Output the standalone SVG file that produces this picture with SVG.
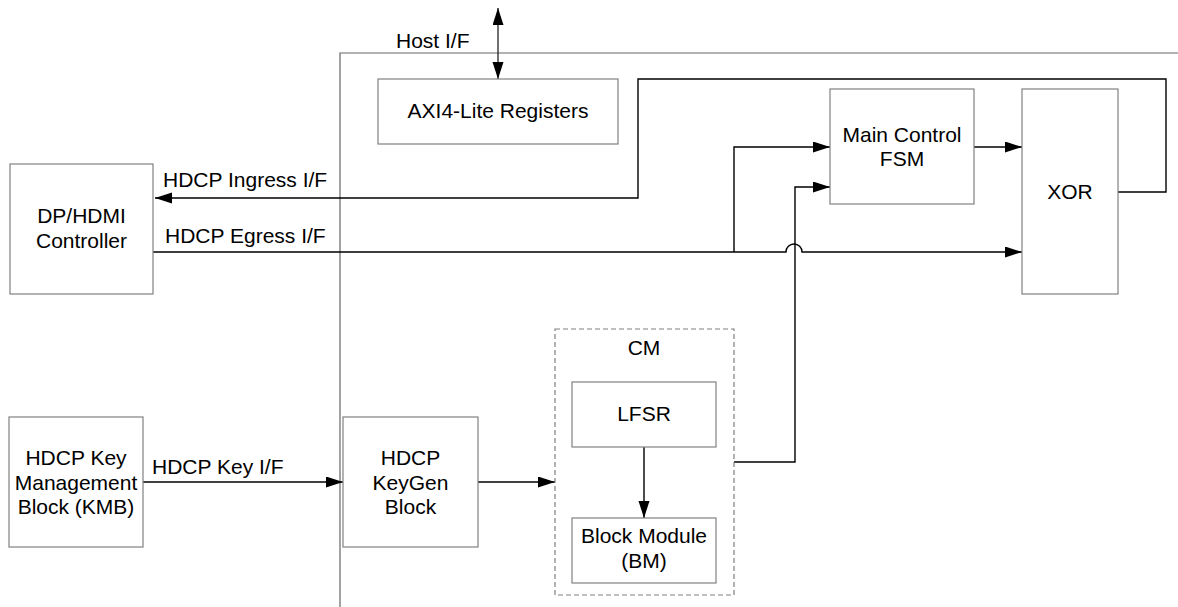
<svg xmlns="http://www.w3.org/2000/svg" width="1178" height="607" viewBox="0 0 1178 607">
<style>
.box{fill:#fff;stroke:#808080;stroke-width:1.2}
.dash{fill:none;stroke:#808080;stroke-width:1.2;stroke-dasharray:5,3}
.frame{fill:none;stroke:#666;stroke-width:1.2}
.wire{fill:none;stroke:#000;stroke-width:1.4}
.arr{marker-end:url(#ah)}
text{font-family:"Liberation Sans",Arial,sans-serif;font-size:21px;fill:#000}
.c{text-anchor:middle}
</style>
<defs>
<marker id="ah" markerUnits="userSpaceOnUse" markerWidth="18" markerHeight="12" refX="17" refY="5.5" orient="auto-start-reverse">
<path d="M0,0 L17,5.5 L0,11 z" fill="#000"/>
</marker>
</defs>
<rect width="1178" height="607" fill="#fff"/>
<path class="frame" d="M340,607 L340,53 L1178,53"/>
<g id="connectors">
<path class="wire arr" d="M498,79 L498,8" marker-start="url(#ah)" style="stroke:#333"/>
<path class="wire arr" d="M1118,192 L1166,192 L1166,79 L638,79 L638,198 L155,198"/>
<path class="wire arr" d="M153,252 L786,252 A8,8 0 0 1 802,252 L1022,252"/>
<path class="wire arr" d="M734,252 L734,147 L830,147"/>
<path class="wire arr" d="M734,462 L795,462 L795,187 L830,187"/>
<path class="wire arr" d="M974,147 L1022,147"/>
<path class="wire arr" d="M143,482 L343,482"/>
<path class="wire arr" d="M478,482 L555,482"/>
<path class="wire arr" d="M644,447 L644,518"/>
<text x="396" y="48">Host I/F</text>
<text x="163" y="187">HDCP Ingress I/F</text>
<text x="165" y="243">HDCP Egress I/F</text>
<text x="152" y="474">HDCP Key I/F</text>
</g>
<g id="axi">
<rect class="box" x="378" y="79" width="240" height="65"/>
<text class="c" x="498" y="118">AXI4-Lite Registers</text>
</g>
<g id="fsm">
<rect class="box" x="830" y="89" width="144" height="115"/>
<text class="c" x="902" y="142">Main Control</text>
<text class="c" x="902" y="166">FSM</text>
</g>
<g id="xor">
<rect class="box" x="1022" y="89" width="96" height="205"/>
<text class="c" x="1070" y="199">XOR</text>
</g>
<g id="dphdmi">
<rect class="box" x="10" y="164" width="143" height="130"/>
<text class="c" x="81.5" y="223">DP/HDMI</text>
<text class="c" x="81.5" y="248">Controller</text>
</g>
<g id="kmb">
<rect class="box" x="9" y="417" width="134" height="130"/>
<text class="c" x="76" y="465">HDCP Key</text>
<text class="c" x="76" y="490">Management</text>
<text class="c" x="76" y="514">Block (KMB)</text>
</g>
<g id="keygen">
<rect class="box" x="343" y="417" width="135" height="130"/>
<text class="c" x="410.5" y="465">HDCP</text>
<text class="c" x="410.5" y="490">KeyGen</text>
<text class="c" x="410.5" y="514">Block</text>
</g>
<g id="cm">
<rect class="dash" x="555" y="329" width="179" height="266"/>
<text class="c" x="644" y="355">CM</text>
</g>
<g id="lfsr">
<rect class="box" x="572" y="382" width="144" height="65"/>
<text class="c" x="644" y="421">LFSR</text>
</g>
<g id="bm">
<rect class="box" x="572" y="518" width="144" height="65"/>
<text class="c" x="644" y="543">Block Module</text>
<text class="c" x="644" y="568">(BM)</text>
</g>
</svg>
